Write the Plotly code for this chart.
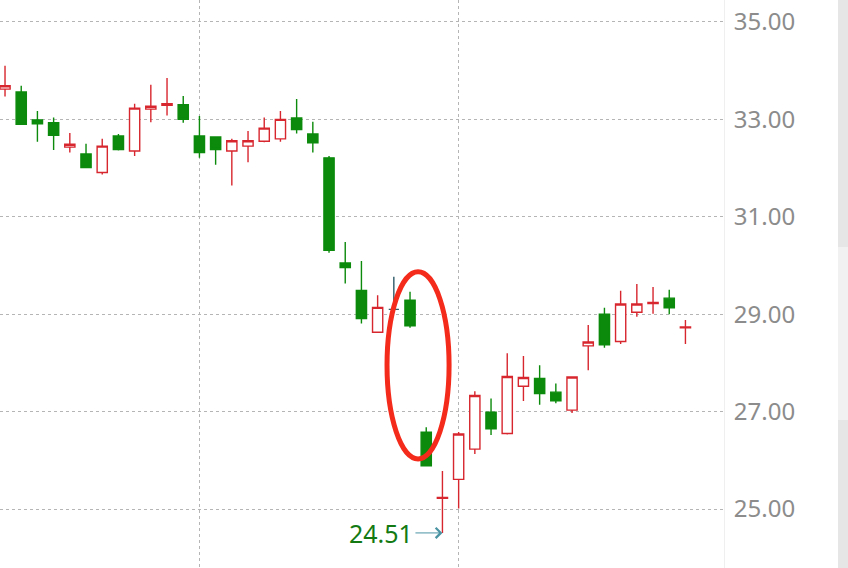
import plotly.graph_objects as go

up_color = "#d7262e"
down_color = "#0b8a0b"
doji_color = "#2f5a68"
grid_color = "#b5b5b5"

# daily bars, index 0..42 (the doji at index 24 is drawn separately)
days = list(range(43))
opens = [33.62, 33.56, 32.99, 32.93, 32.43, 32.29, 31.91, 32.66, 32.35, 33.21,
         33.29, 33.30, 32.66, 32.64, 32.35, 32.45, 32.55, 32.60, 33.03, 32.70,
         32.21, 30.05, 29.49, 28.63, 29.10, 29.29, 26.58, 25.22, 25.61, 26.23,
         26.99, 26.55, 27.52, 27.68, 27.40, 27.03, 28.35, 29.00, 28.44, 29.04,
         29.22, 29.33, 28.72]
highs = [34.10, 33.69, 33.17, 33.04, 32.72, 32.50, 32.60, 32.70, 33.32, 33.71,
         33.85, 33.48, 33.07, 32.64, 32.60, 32.76, 33.04, 33.17, 33.42, 32.95,
         32.25, 30.48, 30.09, 29.39, 29.77, 29.46, 26.68, 25.78, 26.58, 27.42,
         27.27, 28.20, 28.14, 27.95, 27.58, 27.71, 28.78, 29.13, 29.48, 29.62,
         29.56, 29.50, 28.88]
lows = [33.47, 32.90, 32.54, 32.37, 32.32, 32.01, 31.87, 32.36, 32.25, 32.94,
        33.08, 32.93, 32.21, 32.07, 31.64, 32.12, 32.53, 32.54, 32.71, 32.32,
        30.26, 29.63, 28.81, 28.63, 29.10, 28.72, 25.89, 24.51, 25.01, 26.13,
        26.52, 26.53, 27.22, 27.14, 27.17, 26.97, 27.85, 28.31, 28.39, 28.95,
        29.01, 29.00, 28.39]
closes = [33.69, 32.90, 32.91, 32.67, 32.49, 32.01, 32.45, 32.38, 33.23, 33.27,
          33.32, 33.00, 32.32, 32.38, 32.56, 32.56, 32.82, 33.00, 32.79, 32.52,
          30.31, 29.96, 28.91, 29.14, 29.10, 28.76, 25.89, 25.24, 26.54, 27.33,
          26.65, 27.72, 27.70, 27.37, 27.22, 27.71, 28.43, 28.37, 29.21, 29.21,
          29.24, 29.13, 28.74]
doji_index = 24
y_ticks = [25, 27, 29, 31, 33, 35]
month_marks = [12, 28]
low_label = "24.51"

main = [i for i in days if i != doji_index]

fig = go.Figure()
fig.add_trace(
    go.Candlestick(
        x=[days[i] for i in main],
        open=[opens[i] for i in main],
        high=[highs[i] for i in main],
        low=[lows[i] for i in main],
        close=[closes[i] for i in main],
        increasing=dict(fillcolor="white", line=dict(color=up_color, width=1.4)),
        decreasing=dict(fillcolor=down_color, line=dict(color=down_color, width=1.4)),
        whiskerwidth=0,
        showlegend=False,
    )
)
fig.add_trace(
    go.Candlestick(
        x=[days[doji_index]],
        open=[opens[doji_index]],
        high=[highs[doji_index]],
        low=[lows[doji_index]],
        close=[closes[doji_index]],
        increasing=dict(fillcolor=doji_color, line=dict(color=doji_color, width=1.4)),
        decreasing=dict(fillcolor=doji_color, line=dict(color=doji_color, width=1.4)),
        showlegend=False,
    )
)

# red ellipse around the gap
fig.add_shape(
    type="circle", xref="x", yref="y",
    x0=23.58, x1=27.41, y0=26.03, y1=29.87,
    line=dict(color="#f42a1b", width=5),
)

# scrollbar strip at the right edge
fig.add_shape(type="rect", xref="paper", yref="paper",
              x0=838 / 724, x1=848 / 724, y0=0, y1=1,
              fillcolor="#e6e6e6", line=dict(width=0), layer="below")
fig.add_shape(type="rect", xref="paper", yref="paper",
              x0=838 / 724, x1=848 / 724, y0=148 / 568, y1=321 / 568,
              fillcolor="#f1f1f1", line=dict(width=0), layer="below")

i_low = lows.index(min(lows))
fig.add_annotation(
    x=days[i_low], y=lows[i_low], xref="x", yref="y",
    text=low_label, showarrow=True,
    ax=-27, ay=0, xanchor="right",
    arrowhead=4, arrowsize=2, arrowwidth=1, arrowcolor="#4a93a3",
    font=dict(size=25, color="#137a13", family="Noto Sans"),
)

fig.update_xaxes(
    range=[-0.31, 44.38],
    rangeslider_visible=False,
    tickvals=month_marks,
    showticklabels=False,
    showgrid=True,
    gridcolor=grid_color,
    griddash="dot",
    gridwidth=1,
    zeroline=False,
    showline=False,
)
fig.update_yaxes(
    side="right",
    range=[23.79, 35.45],
    tickvals=y_ticks,
    tickformat=".2f",
    ticks="",
    ticklabelstandoff=4,
    tickfont=dict(size=24, color="#8c8c8c", family="Noto Sans"),
    showgrid=True,
    gridcolor=grid_color,
    griddash="dot",
    gridwidth=1,
    zeroline=False,
    showline=True,
    linecolor="#efefef",
    linewidth=1,
)
fig.update_layout(
    width=848,
    height=568,
    margin=dict(l=0, r=124, t=0, b=0),
    plot_bgcolor="white",
    paper_bgcolor="white",
    showlegend=False,
    boxgap=0.1,
)

fig.write_html(
    "out.html",
    config={"displayModeBar": False},
    post_script="document.body.style.margin = '0';",
)
